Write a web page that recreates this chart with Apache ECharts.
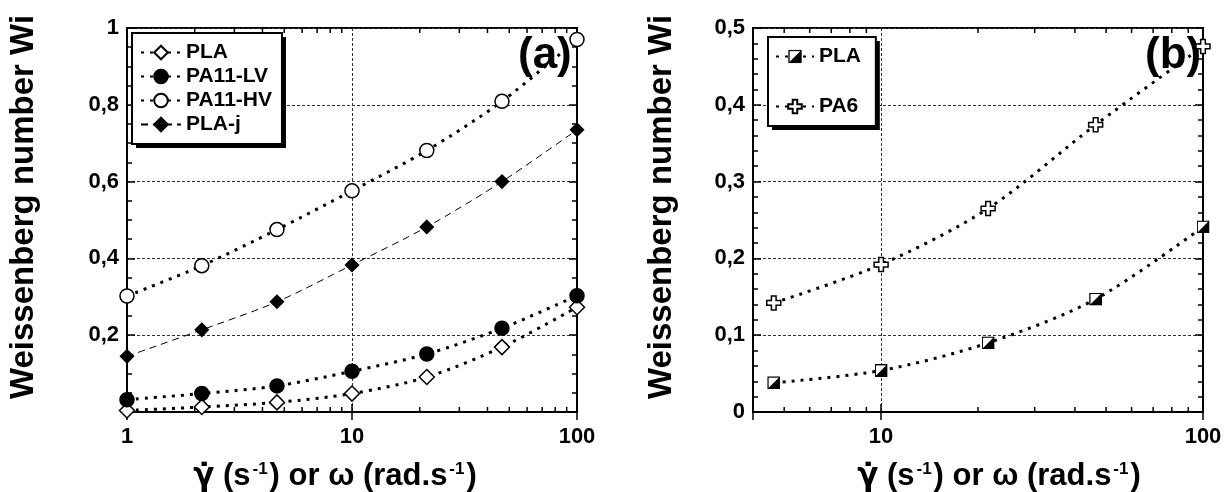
<!DOCTYPE html>
<html>
<head>
<meta charset="utf-8">
<script src="https://cdn.jsdelivr.net/npm/echarts@6/dist/echarts.min.js"></script>
<style>
  html, body { margin: 0; padding: 0; background: #fff; }
  #chart { width: 1229px; height: 492px; }
</style>
</head>
<body>
<div id="chart"></div>
<script>
// ---------- data ----------
const xA = [1, 2.15, 4.64, 10, 21.5, 46.4, 100];
const plaA = [0.004, 0.013, 0.025, 0.048, 0.091, 0.169, 0.273];
const pa11lv = [0.032, 0.048, 0.068, 0.106, 0.151, 0.218, 0.303];
const pa11hv = [0.302, 0.381, 0.475, 0.576, 0.681, 0.809, 0.970];
const plaj = [0.145, 0.214, 0.287, 0.383, 0.482, 0.600, 0.735];

const xB = [4.64, 10, 21.5, 46.4, 100];
const plaB = [0.038, 0.054, 0.090, 0.147, 0.241];
const pa6 = [0.142, 0.192, 0.265, 0.374, 0.476];

const xTickLabelsA = [1, 10, 100];
const xTickLabelsB = [10, 100];
const minorXA = [2, 3, 4, 5, 6, 7, 8, 9, 20, 30, 40, 50, 60, 70, 80, 90];
const minorXB = [5, 6, 7, 8, 9, 20, 30, 40, 50, 60, 70, 80, 90];

const namesA = ['PLA', 'PA11-LV', 'PA11-HV', 'PLA-j'];
const namesB = ['PLA ', 'PA6'];

// ---------- helpers ----------
const FONT = '"Liberation Sans", Arial, sans-serif';
const pair = (xs, ys) => xs.map((x, i) => [x, ys[i]]);

const halfSquareSvg = "<svg xmlns='http://www.w3.org/2000/svg' width='28' height='28'>" +
  "<rect x='1.5' y='1.5' width='25' height='25' fill='white' stroke='black' stroke-width='3'/>" +
  "<path d='M26.5 1.5 L26.5 26.5 L1.5 26.5 Z' fill='black'/></svg>";
const halfSquare = 'image://data:image/svg+xml;charset=utf-8,' + encodeURIComponent(halfSquareSvg);
const crossPath = 'path://M4,0 L8,0 L8,4 L12,4 L12,8 L8,8 L8,12 L4,12 L4,8 L0,8 L0,4 L4,4 Z';

function yLabel(hideZero) {
  return function (v) {
    const r = Number(v.toFixed(2));
    if (r === 0) return hideZero ? '' : '0';
    if (r === 1) return '1';
    return String(r).replace('.', ',');
  };
}
function xLabel(list) {
  return function (v) {
    const r = Math.round(v * 1000) / 1000;
    return list.indexOf(r) >= 0 ? String(r) : '';
  };
}

const xTitleText = '{g|γ̇}{t| (s}{s|-1}{t|) or ω (rad.s}{s|-1}{t|)}';
const xTitleRich = {
  g: { fontSize: 31, fontWeight: 'bold', fontFamily: '"DejaVu Sans", sans-serif', color: '#000', verticalAlign: 'bottom' },
  t: { fontSize: 31, fontWeight: 'bold', fontFamily: FONT, color: '#000', verticalAlign: 'bottom' },
  s: { fontSize: 17, fontWeight: 'bold', fontFamily: FONT, color: '#000', verticalAlign: 'top', padding: [0, 2, 14, 2] }
};

const gridLine = { show: true, lineStyle: { color: '#333', width: 1, type: [3, 2] } };

function mainX(grid, min, max, labels, namePad) {
  return {
    type: 'log', logBase: 10, gridIndex: grid, min: min, max: max,
    position: 'bottom',
    axisLine: { show: true, lineStyle: { color: '#000', width: 2 } },
    axisTick: { show: true, inside: true, length: 8, lineStyle: { color: '#000', width: 1.5 } },
    minorTick: { show: false },
    splitLine: gridLine,
    axisLabel: { formatter: xLabel(labels), fontSize: 22, fontWeight: 'bold', fontFamily: FONT, color: '#000', margin: 14 },
    name: xTitleText, nameLocation: 'middle', nameGap: 49,
    nameTextStyle: { rich: xTitleRich, padding: namePad }
  };
}
function topX(grid, min, max) {
  return {
    type: 'log', logBase: 10, gridIndex: grid, min: min, max: max, position: 'top',
    axisLine: { show: true, lineStyle: { color: '#000', width: 2 } },
    axisTick: { show: true, inside: true, length: 8, lineStyle: { color: '#000', width: 1.5 } },
    splitLine: { show: false }, axisLabel: { show: false }
  };
}
function mainY(grid, max, interval, minorSplit, hideZero, nameGap) {
  return {
    type: 'value', gridIndex: grid, min: 0, max: max, interval: interval, position: 'left',
    axisLine: { show: true, lineStyle: { color: '#000', width: 2 } },
    axisTick: { show: true, inside: true, length: 8, lineStyle: { color: '#000', width: 1.5 } },
    minorTick: { show: true, splitNumber: minorSplit, length: 5, lineStyle: { color: '#000', width: 1.5 } },
    splitLine: gridLine,
    axisLabel: { formatter: yLabel(hideZero), fontSize: 22, fontWeight: 'bold', fontFamily: FONT, color: '#000', margin: 8 },
    name: 'Weissenberg number Wi', nameLocation: 'middle', nameRotate: 90, nameGap: nameGap,
    nameMoveOverlap: false,
    nameTextStyle: { fontSize: 33, fontWeight: 'bold', fontFamily: FONT, color: '#000', padding: [0, 0, 0, 26] }
  };
}
function rightY(grid, max, interval, minorSplit) {
  return {
    type: 'value', gridIndex: grid, min: 0, max: max, interval: interval, position: 'right',
    axisLine: { show: true, lineStyle: { color: '#000', width: 2 } },
    axisTick: { show: true, inside: true, length: 8, lineStyle: { color: '#000', width: 1.5 } },
    minorTick: { show: true, splitNumber: minorSplit, length: 5, lineStyle: { color: '#000', width: 1.5 } },
    splitLine: { show: false }, axisLabel: { show: false }
  };
}
function minorTicks(xIdx, yIdx, yMax, values) {
  return {
    type: 'custom', xAxisIndex: xIdx, yAxisIndex: yIdx, silent: true, z: 5,
    data: values.map(v => [v, 0]),
    renderItem: function (params, api) {
      const v = api.value(0);
      const b = api.coord([v, 0]);
      const t = api.coord([v, yMax]);
      return {
        type: 'group', children: [
          { type: 'line', shape: { x1: b[0], y1: b[1], x2: b[0], y2: b[1] - 5 }, style: { stroke: '#000', lineWidth: 1.5 } },
          { type: 'line', shape: { x1: t[0], y1: t[1], x2: t[0], y2: t[1] + 5 }, style: { stroke: '#000', lineWidth: 1.5 } }
        ]
      };
    }
  };
}
const dotted = { color: '#000', width: 3, type: [3, 6] };
function lineSeries(name, xi, yi, data, symbol, size, fill, ls) {
  return {
    name: name, type: 'line', xAxisIndex: xi, yAxisIndex: yi, data: data,
    smooth: 0.3, symbol: symbol, symbolSize: size, showSymbol: true, clip: false,
    lineStyle: ls || dotted,
    itemStyle: { color: fill, borderColor: '#000', borderWidth: 1.5 },
    z: 10
  };
}

const legendText = { fontSize: 21, fontWeight: 'bold', fontFamily: FONT, color: '#000' };
const legendBase = {
  orient: 'vertical', backgroundColor: '#fff', borderColor: '#000', borderWidth: 2,
  itemHeight: 17, itemWidth: 40, z: 6,
  textStyle: legendText
};
// a second, invisible-content legend with the same layout only casts the drop shadow
const legendShadow = {
  orient: 'vertical', backgroundColor: '#000', borderWidth: 0,
  itemHeight: 17, itemWidth: 40, z: 5, selectedMode: false,
  itemStyle: { opacity: 0 }, lineStyle: { opacity: 0 },
  textStyle: Object.assign({}, legendText, { color: 'rgba(0,0,0,0)' })
};
const legendA = { data: namesA, left: 132, top: 33, itemGap: 3, padding: [9, 10, 9, 8] };
const legendB = { data: namesB, left: 768, top: 37, itemGap: 29, padding: [9, 9, 9, 7], itemWidth: 38 };

const option = {
  backgroundColor: '#fff',
  animation: false,
  grid: [
    { left: 127, right: 652, top: 28, bottom: 80, show: true, borderColor: '#000', borderWidth: 2, outerBoundsMode: 'none', containLabel: false },
    { left: 753, right: 26, top: 28, bottom: 80, show: true, borderColor: '#000', borderWidth: 2, outerBoundsMode: 'none', containLabel: false }
  ],
  title: [
    { text: '(a)', left: 513, top: 29, textStyle: { fontSize: 44, fontWeight: 'bold', fontFamily: FONT, color: '#000' } },
    { text: '(b)', left: 1140, top: 29, textStyle: { fontSize: 44, fontWeight: 'bold', fontFamily: FONT, color: '#000' } }
  ],
  legend: [
    Object.assign({}, legendShadow, legendA, { left: legendA.left + 4, top: legendA.top + 4 }),
    Object.assign({}, legendShadow, legendB, { left: legendB.left + 4, top: legendB.top + 4 }),
    Object.assign({}, legendBase, legendA),
    Object.assign({}, legendBase, legendB)
  ],
  xAxis: [
    mainX(0, 1, 100, xTickLabelsA, [0, 34, 0, 0]),
    mainX(1, 4, 100, xTickLabelsB, [0, 0, 0, 42]),
    topX(0, 1, 100),
    topX(1, 4, 100)
  ],
  yAxis: [
    mainY(0, 1, 0.2, 4, true, 87),
    mainY(1, 0.5, 0.1, 5, false, 75),
    rightY(0, 1, 0.2, 4),
    rightY(1, 0.5, 0.1, 5)
  ],
  series: [
    minorTicks(0, 0, 1, minorXA),
    minorTicks(1, 1, 0.5, minorXB),
    lineSeries('PLA', 0, 0, pair(xA, plaA), 'diamond', 15, '#fff'),
    lineSeries('PA11-LV', 0, 0, pair(xA, pa11lv), 'circle', 14, '#000'),
    lineSeries('PA11-HV', 0, 0, pair(xA, pa11hv), 'circle', 14, '#fff'),
    lineSeries('PLA-j', 0, 0, pair(xA, plaj), 'diamond', 13, '#000', { color: '#000', width: 1, type: [7, 5] }),
    lineSeries('PLA ', 1, 1, pair(xB, plaB), halfSquare, 13, '#fff'),
    lineSeries('PA6', 1, 1, pair(xB, pa6), crossPath, 14, '#fff')
  ]
};

const chart = echarts.init(document.getElementById('chart'));
chart.setOption(option);
</script>
</body>
</html>
